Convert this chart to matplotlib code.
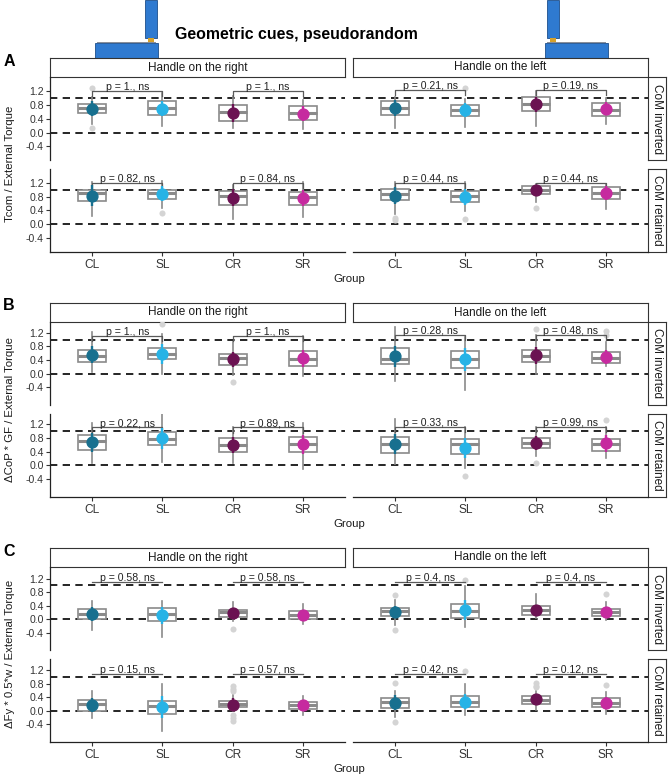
import numpy as np
import matplotlib
matplotlib.use('Agg')
import matplotlib.pyplot as plt
from matplotlib.patches import Rectangle

plt.rcParams['font.family'] = ['Liberation Sans', 'DejaVu Sans']

W, H = 669, 777

groups = ['CL', 'SL', 'CR', 'SR']
colors = ['#18708f', '#27b3e6', '#6b1252', '#c62a9f']
columns = ['Handle on the right', 'Handle on the left']
rows = ['CoM inverted', 'CoM retained']
yticks = [-0.4, 0.0, 0.4, 0.8, 1.2]

# facet order: inverted/right, inverted/left, retained/right, retained/left
# ---- A : Tcom / External Torque
A_q1 = [[0.56, 0.52, 0.34, 0.37], [0.52, 0.48, 0.62, 0.48],
        [0.66, 0.74, 0.57, 0.55], [0.69, 0.64, 0.88, 0.74]]
A_med = [[0.72, 0.72, 0.60, 0.56], [0.73, 0.66, 0.83, 0.66],
         [0.91, 0.91, 0.83, 0.79], [0.88, 0.82, 1.00, 0.90]]
A_q3 = [[0.83, 0.93, 0.80, 0.77], [0.93, 0.80, 1.05, 0.86],
        [0.98, 0.98, 0.97, 0.94], [1.03, 0.95, 1.10, 1.08]]
A_lo = [[0.25, 0.20, 0.13, 0.10], [0.12, 0.17, 0.20, 0.25],
        [0.23, 0.47, 0.15, 0.22], [0.30, 0.37, 0.64, 0.43]]
A_hi = [[1.03, 1.15, 1.08, 0.95], [1.05, 0.98, 1.20, 1.00],
        [1.22, 1.27, 1.13, 1.22], [1.22, 1.22, 1.17, 1.17]]
A_mean = [[0.70, 0.70, 0.57, 0.55], [0.71, 0.65, 0.82, 0.70],
          [0.83, 0.88, 0.77, 0.76], [0.83, 0.79, 0.98, 0.91]]
A_sd = [[0.22, 0.22, 0.25, 0.22], [0.24, 0.20, 0.22, 0.20],
        [0.30, 0.22, 0.25, 0.24], [0.25, 0.22, 0.14, 0.20]]
A_out = [[[1.30, 0.14], [], [], []], [[], [1.30], [], []],
         [[], [0.32], [], []], [[0.18, 0.13], [0.16], [0.48], []]]
A_p = [['p = 1., ns', 'p = 1., ns'], ['p = 0.21, ns', 'p = 0.19, ns'],
       ['p = 0.82, ns', 'p = 0.84, ns'], ['p = 0.44, ns', 'p = 0.44, ns']]
A_py = [1.22, 1.25, 1.21, 1.21]

# ---- B : dCoP * GF / External Torque
B_q1 = [[0.34, 0.42, 0.26, 0.24], [0.28, 0.17, 0.35, 0.32],
        [0.46, 0.58, 0.39, 0.38], [0.37, 0.33, 0.50, 0.43]]
B_med = [[0.52, 0.59, 0.45, 0.42], [0.43, 0.43, 0.51, 0.47],
         [0.70, 0.77, 0.58, 0.63], [0.62, 0.61, 0.66, 0.62]]
B_q3 = [[0.71, 0.77, 0.59, 0.67], [0.77, 0.66, 0.69, 0.64],
        [0.88, 0.99, 0.80, 0.84], [0.82, 0.76, 0.81, 0.78]]
B_lo = [[0.06, 0.00, -0.04, -0.07], [-0.20, -0.48, 0.00, 0.23],
        [0.07, 0.09, 0.07, -0.11], [0.04, -0.09, 0.27, 0.20]]
B_hi = [[1.24, 1.16, 0.93, 1.10], [1.37, 1.08, 1.13, 0.93],
        [1.23, 1.50, 1.13, 1.25], [1.37, 1.13, 1.13, 1.13]]
B_mean = [[0.55, 0.58, 0.43, 0.45], [0.51, 0.42, 0.54, 0.50],
          [0.68, 0.79, 0.59, 0.61], [0.62, 0.51, 0.66, 0.65]]
B_sd = [[0.25, 0.30, 0.22, 0.25], [0.30, 0.35, 0.25, 0.20],
        [0.28, 0.30, 0.24, 0.28], [0.30, 0.30, 0.20, 0.25]]
B_out = [[[], [1.47], [-0.24], []], [[], [], [1.32], [1.27, 1.13]],
         [[], [], [], []], [[], [-0.33], [0.06], [1.32]]]
B_p = [['p = 1., ns', 'p = 1., ns'], ['p = 0.28, ns', 'p = 0.48, ns'],
       ['p = 0.22, ns', 'p = 0.89, ns'], ['p = 0.33, ns', 'p = 0.99, ns']]
B_py = [1.11, 1.13, 1.11, 1.13]

# ---- C : dFy * 0.5*w / External Torque
C_q1 = [[-0.01, -0.05, 0.05, 0.00], [0.10, 0.03, 0.13, 0.08],
        [0.00, -0.09, 0.11, 0.06], [0.09, 0.11, 0.20, 0.11]]
C_med = [[0.15, 0.15, 0.21, 0.13], [0.24, 0.24, 0.26, 0.21],
         [0.20, 0.14, 0.20, 0.18], [0.25, 0.25, 0.32, 0.23]]
C_q3 = [[0.31, 0.32, 0.26, 0.24], [0.34, 0.44, 0.39, 0.31],
        [0.32, 0.30, 0.28, 0.25], [0.38, 0.42, 0.42, 0.37]]
C_lo = [[-0.32, -0.53, -0.05, -0.15], [-0.19, -0.24, 0.03, -0.03],
        [-0.23, -0.60, -0.01, -0.12], [-0.18, -0.14, 0.03, -0.09]]
C_hi = [[0.53, 0.53, 0.51, 0.44], [0.58, 0.97, 0.75, 0.50],
        [0.59, 0.80, 0.45, 0.43], [0.59, 0.79, 0.59, 0.54]]
C_mean = [[0.15, 0.11, 0.17, 0.12], [0.22, 0.26, 0.27, 0.21],
          [0.16, 0.11, 0.18, 0.16], [0.24, 0.26, 0.33, 0.24]]
C_sd = [[0.20, 0.25, 0.14, 0.12], [0.18, 0.30, 0.15, 0.14],
        [0.20, 0.32, 0.20, 0.12], [0.22, 0.22, 0.14, 0.15]]
C_out = [[[], [], [-0.29], []], [[0.73, -0.31], [1.17], [], [0.76]],
         [[], [], [0.72, 0.64, 0.59, -0.14, -0.23, -0.30], []],
         [[0.83, -0.35], [1.17], [0.83, 0.74, 0.69], [0.76]]]
C_p = [['p = 0.58, ns', 'p = 0.58, ns'], ['p = 0.4, ns', 'p = 0.4, ns'],
       ['p = 0.15, ns', 'p = 0.57, ns'], ['p = 0.42, ns', 'p = 0.12, ns']]
C_py = [1.10, 1.10, 1.10, 1.10]


def px_axes(fig, x0, y0, x1, y1, **kw):
    # axes from pixel box (top-left origin)
    return fig.add_axes([x0 / W, 1 - y1 / H, (x1 - x0) / W, (y1 - y0) / H], **kw)


def strip(fig, x0, y0, x1, y1, label, rot):
    s = px_axes(fig, x0, y0, x1, y1)
    s.set_xticks([])
    s.set_yticks([])
    for sp in s.spines.values():
        sp.set_color('#333333')
        sp.set_linewidth(0.8)
    s.text(0.5, 0.5, label, transform=s.transAxes, ha='center', va='center',
           rotation=rot, fontsize=8.5, color='#1a1a1a')


def draw_block(fig, top, letter, ylabel, ylim, q1, med, q3, lo, hi, mean, sd,
               out, ptxt, py, tip):
    strip_bot = top + 19
    row_h, gap = 83, 8.5
    col_x = [(50, 345), (353, 648)]
    row_y = [(strip_bot, strip_bot + row_h),
             (strip_bot + row_h + gap, strip_bot + 2 * row_h + gap)]
    pos = np.arange(1, 5)

    for c, (x0, x1) in enumerate(col_x):
        strip(fig, x0, top, x1, strip_bot, columns[c], 0)

    for r, (y0, y1) in enumerate(row_y):
        strip(fig, 648, y0, 666, y1, rows[r], -90)
        for c, (x0, x1) in enumerate(col_x):
            k = 2 * r + c
            ax = px_axes(fig, x0, y0, x1, y1)
            ax.patch.set_alpha(0)

            ax.axhline(0, color='black', lw=1.2, ls=(0, (4.4, 3.2)), zorder=1)
            ax.axhline(1, color='black', lw=1.2, ls=(0, (4.4, 3.2)), zorder=1)

            stats = [dict(q1=q1[k][g], med=med[k][g], q3=q3[k][g],
                          whislo=lo[k][g], whishi=hi[k][g], fliers=out[k][g])
                     for g in range(4)]
            ax.bxp(stats, positions=pos, widths=0.4, showcaps=False,
                   patch_artist=True,
                   boxprops=dict(facecolor='white', edgecolor='#8a8a8a', linewidth=1.2),
                   whiskerprops=dict(color='#8a8a8a', linewidth=1.2),
                   medianprops=dict(color='#8a8a8a', linewidth=2.2),
                   flierprops=dict(marker='o', markerfacecolor='#d4d4d4',
                                   markeredgecolor='none', markersize=4.4),
                   zorder=2)

            for g in range(4):
                ax.errorbar(pos[g], mean[k][g], yerr=sd[k][g], fmt='o',
                            color=colors[g], ms=7.8, elinewidth=1.7,
                            capsize=0, zorder=4)

            for j, (a, b) in enumerate([(1, 2), (3, 4)]):
                ax.plot([a, a, b, b], [py[k] - tip, py[k], py[k], py[k] - tip],
                        color='#5a5a5a', lw=0.9, zorder=3)
                ax.text((a + b) / 2, py[k] + 0.025, ptxt[k][j], ha='center',
                        va='baseline', fontsize=7.6, color='#222222', zorder=5)

            ax.set_xlim(0.4, 4.6)
            ax.set_ylim(*ylim)
            ax.spines['top'].set_visible(False)
            ax.spines['right'].set_visible(False)
            ax.spines['left'].set_visible(c == 0)
            ax.spines['bottom'].set_visible(r == 1)
            for sp in ('left', 'bottom'):
                ax.spines[sp].set_linewidth(0.9)
                ax.spines[sp].set_color('#222222')

            if c == 0:
                ax.set_yticks(yticks)
                ax.set_yticklabels(['%.1f' % t for t in yticks])
                ax.tick_params(axis='y', length=3, width=0.8, pad=1.5,
                               labelsize=7.6, colors='#333333')
            else:
                ax.set_yticks([])
            if r == 1:
                ax.set_xticks(pos)
                ax.set_xticklabels(groups)
                ax.tick_params(axis='x', length=3, width=0.8, pad=2.5,
                               labelsize=8.6, colors='#333333')
            else:
                ax.set_xticks([])

    bottom = row_y[1][1]
    fig.text(349 / W, 1 - (bottom + 27.5) / H, 'Group', ha='center',
             va='center', fontsize=8.2, color='#1a1a1a')
    mid = (row_y[0][0] + row_y[1][1]) / 2
    fig.text(10 / W, 1 - mid / H, ylabel, rotation=90, ha='center',
             va='center', fontsize=8.2, color='#1a1a1a')
    fig.text(9 / W, 1 - (top + 3) / H, letter, ha='center', va='center',
             fontsize=11.5, fontweight='bold')


def draw_device(bg, x_base, x_bar):
    # simple sketch of the handle device shown above the columns
    bg.add_patch(Rectangle((x_base, 43), 63, 15, facecolor='#2f7ad0',
                           edgecolor='#1d4f8c', lw=0.6))
    bg.add_patch(Rectangle((x_base + 2, 41.5), 59, 1.8, facecolor='#8a8f99',
                           edgecolor='none'))
    bg.add_patch(Rectangle((x_bar, 0), 12, 38, facecolor='#2f7ad0',
                           edgecolor='#1d4f8c', lw=0.6))
    bg.add_patch(Rectangle((x_bar + 5.5, 0), 0.8, 38, facecolor='#1d4f8c',
                           edgecolor='none'))
    bg.add_patch(Rectangle((x_bar + 3, 37.5), 6, 4.5, facecolor='#d6a12a',
                           edgecolor='none'))


fig = plt.figure(figsize=(W / 100, H / 100), dpi=100)

bg = fig.add_axes([0, 0, 1, 1])
bg.set_xlim(0, W)
bg.set_ylim(H, 0)
bg.axis('off')
draw_device(bg, 95, 145)
draw_device(bg, 545, 547)

fig.text(296 / W, 1 - 35 / H, 'Geometric cues, pseudorandom', ha='center',
         va='center', fontsize=11.4, fontweight='bold')

draw_block(fig, 58, 'A', 'Tcom / External Torque', (-0.8, 1.62),
           A_q1, A_med, A_q3, A_lo, A_hi, A_mean, A_sd, A_out, A_p, A_py, 0.15)
draw_block(fig, 303, 'B', '\u0394CoP * GF / External Torque', (-0.92, 1.52),
           B_q1, B_med, B_q3, B_lo, B_hi, B_mean, B_sd, B_out, B_p, B_py, 0.15)
draw_block(fig, 548, 'C', '\u0394Fy * 0.5*w / External Torque', (-0.92, 1.55),
           C_q1, C_med, C_q3, C_lo, C_hi, C_mean, C_sd, C_out, C_p, C_py, 0.0)

fig.savefig('out.png', dpi=100)
